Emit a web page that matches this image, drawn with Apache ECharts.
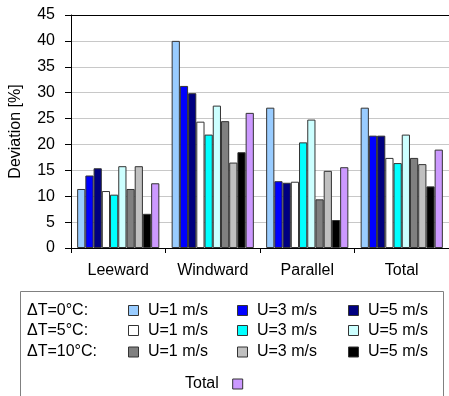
<!DOCTYPE html>
<html>
<head>
<meta charset="utf-8">
<script src="https://cdn.jsdelivr.net/npm/echarts@6/dist/echarts.min.js"></script>
<style>html,body{margin:0;padding:0;background:#fff}#c{width:449px;height:396px}</style>
</head>
<body>
<div id="c"></div>
<script>
const categories = ['Leeward', 'Windward', 'Parallel', 'Total'];
const yTicks = [0, 5, 10, 15, 20, 25, 30, 35, 40, 45];
const dt0u1 = [11.4, 40.0, 27.1, 27.1];
const dt0u3 = [14.0, 31.3, 12.9, 21.7];
const dt0u5 = [15.4, 29.9, 12.6, 21.7];
const dt5u1 = [11.0, 24.4, 12.8, 17.4];
const dt5u3 = [10.3, 21.9, 20.4, 16.4];
const dt5u5 = [15.8, 27.5, 24.8, 21.9];
const dt10u1 = [11.4, 24.5, 9.4, 17.4];
const dt10u3 = [15.8, 16.5, 14.9, 16.2];
const dt10u5 = [6.6, 18.5, 5.4, 11.9];
const totalVals = [12.5, 26.1, 15.6, 19.0];
const rowLabels = ['ΔT=0°C:', 'ΔT=5°C:', 'ΔT=10°C:'];
const speedLabels = ['U=1 m/s', 'U=3 m/s', 'U=5 m/s'];

const FONT = 'Liberation Sans, Arial, sans-serif';
const seriesDefs = [
  {name: 'ΔT=0°C U=1 m/s', data: dt0u1, color: '#99CCFF'},
  {name: 'ΔT=0°C U=3 m/s', data: dt0u3, color: '#0000FF'},
  {name: 'ΔT=0°C U=5 m/s', data: dt0u5, color: '#000080'},
  {name: 'ΔT=5°C U=1 m/s', data: dt5u1, color: '#FFFFFF'},
  {name: 'ΔT=5°C U=3 m/s', data: dt5u3, color: '#00FFFF'},
  {name: 'ΔT=5°C U=5 m/s', data: dt5u5, color: '#CCFFFF'},
  {name: 'ΔT=10°C U=1 m/s', data: dt10u1, color: '#808080'},
  {name: 'ΔT=10°C U=3 m/s', data: dt10u3, color: '#C0C0C0'},
  {name: 'ΔT=10°C U=5 m/s', data: dt10u5, color: '#000000'},
  {name: 'Total', data: totalVals, color: '#CC99FF'}
];

const colX = [128, 237, 348];
const rowY = [311.5, 331.5, 353];
const legends = [];
seriesDefs.forEach((s, i) => {
  if (i < 9) {
    const r = Math.floor(i / 3), c = i % 3;
    legends.push({
      data: [s.name], left: colX[c], top: rowY[r] - 9, padding: 0,
      itemWidth: 10, itemHeight: 10, icon: 'rect', selectedMode: false,
      formatter: () => ' ' + speedLabels[c],
      textStyle: {fontSize: 16, fontFamily: FONT, color: '#000'},
      itemStyle: {borderColor: '#333', borderWidth: 1}
    });
  } else {
    legends.push({
      data: [s.name], left: 185, top: 385 - 9, padding: 0, align: 'right',
      itemWidth: 10, itemHeight: 10, icon: 'rect', selectedMode: false,
      formatter: (n) => n + '  ',
      textStyle: {fontSize: 16, fontFamily: FONT, color: '#000'},
      itemStyle: {borderColor: '#333', borderWidth: 1}
    });
  }
});

const chart = echarts.init(document.getElementById('c'), null, {renderer: 'canvas'});
chart.setOption({
  animation: false,
  backgroundColor: '#fff',
  grid: {left: 70, right: 0, top: 15, bottom: 148, containLabel: false},
  legend: legends,
  xAxis: [{
    type: 'category', data: categories, position: 'bottom',
    axisLine: {show: true, lineStyle: {color: '#000', width: 1}},
    axisTick: {show: true, length: 5, lineStyle: {color: '#000'}},
    axisLabel: {fontSize: 16, fontFamily: FONT, color: '#000', margin: 15},
    splitLine: {show: false}
  }, {
    type: 'category', data: categories, position: 'top',
    axisLine: {show: true, lineStyle: {color: '#000', width: 1}},
    axisTick: {show: false}, axisLabel: {show: false}, splitLine: {show: false}
  }],
  yAxis: {
    type: 'value', min: yTicks[0], max: yTicks[yTicks.length - 1], interval: 5,
    name: 'Deviation [%]', nameLocation: 'middle', nameGap: 47,
    nameTextStyle: {fontSize: 16, fontFamily: FONT, color: '#000'},
    axisLine: {show: true, lineStyle: {color: '#000', width: 1}},
    axisTick: {show: true, length: 6, lineStyle: {color: '#000'}},
    axisLabel: {fontSize: 16, fontFamily: FONT, color: '#000', margin: 16},
    splitLine: {show: true, lineStyle: {color: '#c8c8c8', width: 1}}
  },
  series: seriesDefs.map(s => ({
    name: s.name, type: 'bar', data: s.data, xAxisIndex: 0,
    barGap: '0%', barCategoryGap: '13%',
    itemStyle: {color: s.color, borderColor: '#333', borderWidth: 1}
  })),
  graphic: [
    {type: 'rect', shape: {x: 20.5, y: 291.5, width: 423, height: 120},
     style: {fill: 'none', stroke: '#808080', lineWidth: 1}, z: -1},
    ...rowLabels.map((t, i) => ({
      type: 'text', left: 27, top: rowY[i] - 9,
      style: {text: t, font: '16px ' + FONT, fill: '#000'}
    }))
  ]
});
</script>
</body>
</html>
